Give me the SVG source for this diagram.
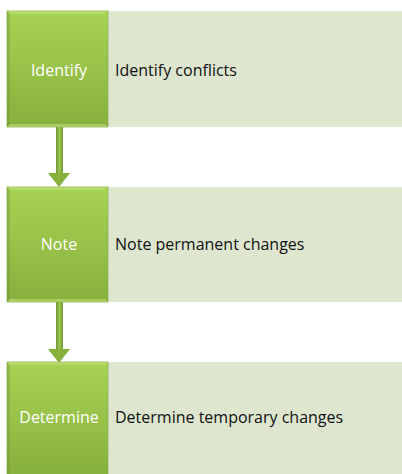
<svg xmlns="http://www.w3.org/2000/svg" width="402" height="474" viewBox="0 0 402 474">
<defs>
<linearGradient id="g" x1="0" y1="0" x2="0" y2="1">
<stop offset="0" stop-color="#a9d354"/>
<stop offset="1" stop-color="#86b03c"/>
</linearGradient>
<linearGradient id="s" x1="0" y1="0" x2="1" y2="0">
<stop offset="0" stop-color="#6f9430"/>
<stop offset="0.5" stop-color="#9cc653"/>
<stop offset="1" stop-color="#6f9430"/>
</linearGradient>
<style>
.panel{fill:#dee6d0}
.box{fill:url(#g);stroke:#8fae55;stroke-width:0.8}
.bl{fill:#bfe07a;opacity:0.6}
.bd{fill:#6e8f34;opacity:0.35}
.lab{font-family:"Open Sans","Liberation Sans",sans-serif;font-size:16px;fill:#ffffff;text-anchor:middle}
.txt{font-family:"Open Sans","Liberation Sans",sans-serif;font-size:16px;fill:#111111}
</style>
</defs>
<g id="connectors">
<rect x="56" y="127" width="7" height="47" fill="url(#s)"/>
<polygon points="48,173 70,173 59,187" fill="#86b03c"/>
<rect x="56" y="302" width="7" height="48" fill="url(#s)"/>
<polygon points="48,349 70,349 59,363" fill="#86b03c"/>
</g>
<g id="n1">
<rect class="panel" x="108" y="11" width="294" height="116"/>
<rect class="box" x="7" y="11" width="101" height="116"/>
<polygon class="bl" points="7,11 108,11 105,14 10,14"/>
<polygon class="bd" points="7,11 10,14 10,124 7,127"/>
<polygon class="bl" points="7,127 10,124 105,124 108,127"/>
<text class="lab" x="59" y="75.5">Identify</text>
<text class="txt" x="115" y="75.5">Identify conflicts</text>
</g>
<g id="n2">
<rect class="panel" x="108" y="187" width="294" height="115"/>
<rect class="box" x="7" y="187" width="101" height="115"/>
<polygon class="bl" points="7,187 108,187 105,190 10,190"/>
<polygon class="bd" points="7,187 10,190 10,299 7,302"/>
<polygon class="bl" points="7,302 10,299 105,299 108,302"/>
<text class="lab" x="59" y="250">Note</text>
<text class="txt" x="115" y="250">Note permanent changes</text>
</g>
<g id="n3">
<rect class="panel" x="108" y="362" width="294" height="112"/>
<rect class="box" x="7" y="362" width="101" height="114"/>
<polygon class="bl" points="7,362 108,362 105,365 10,365"/>
<polygon class="bd" points="7,362 10,365 10,474 7,474"/>
<text class="lab" x="59" y="423">Determine</text>
<text class="txt" x="115" y="423">Determine temporary changes</text>
</g>
</svg>
